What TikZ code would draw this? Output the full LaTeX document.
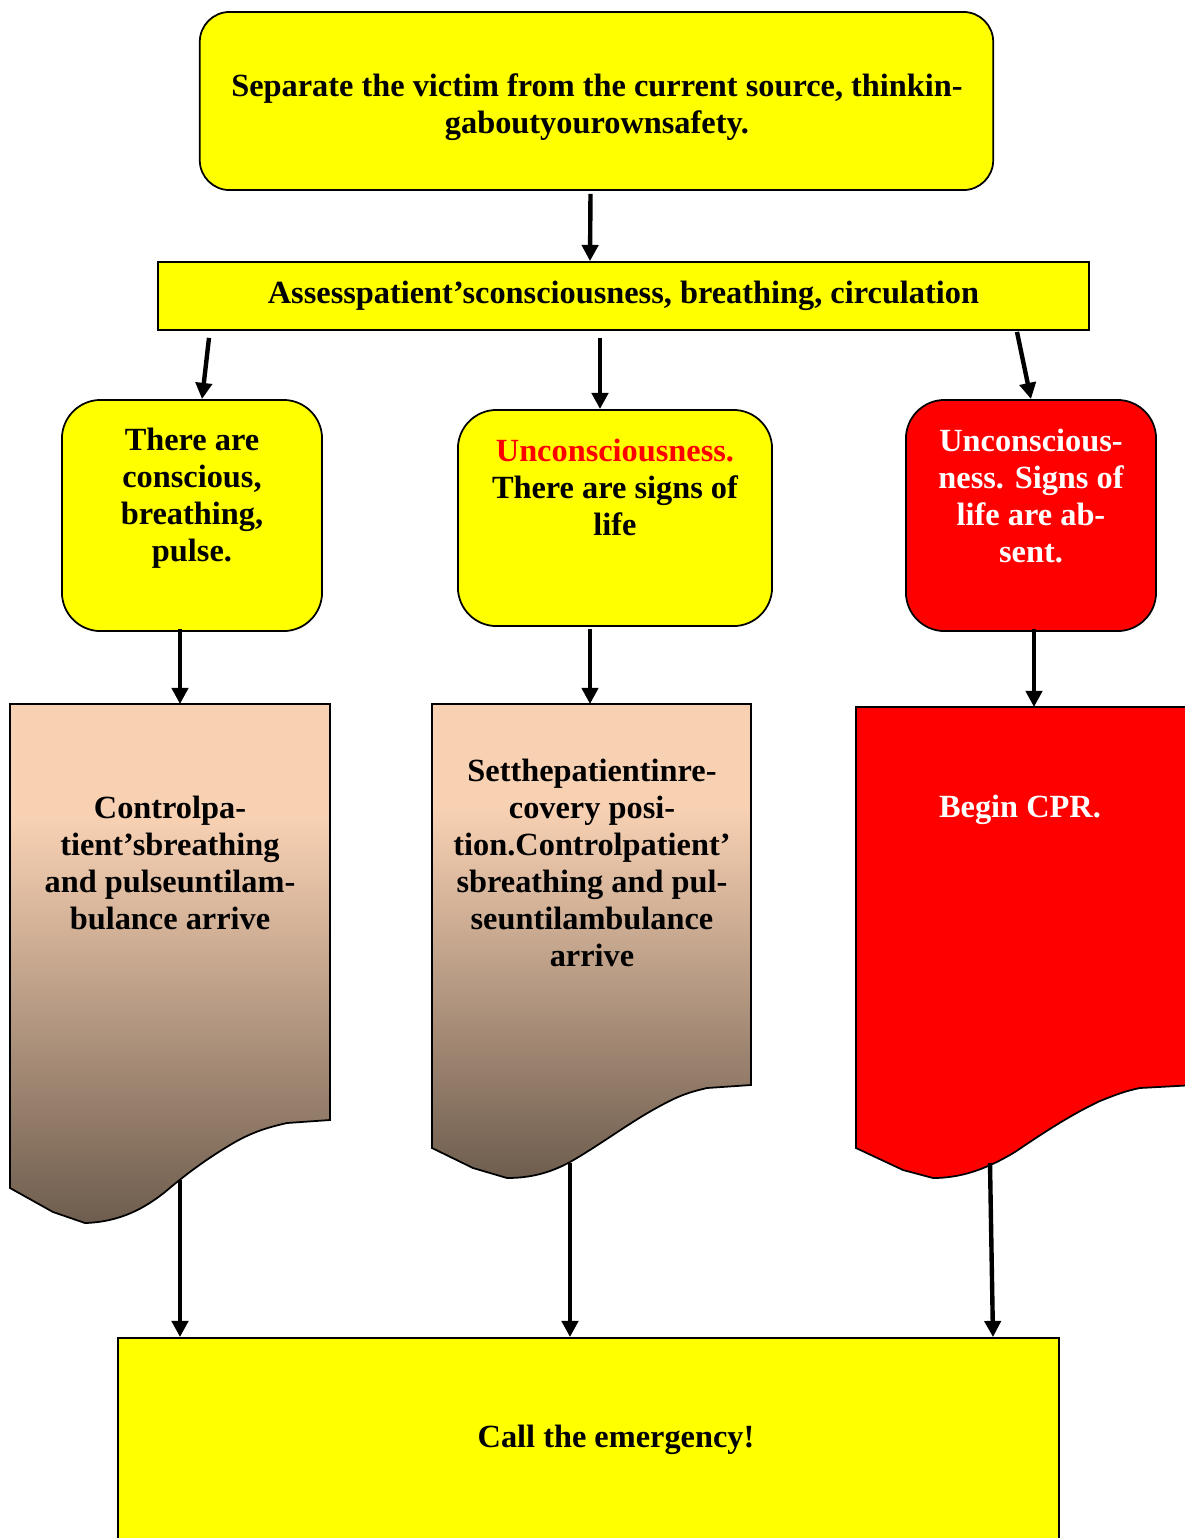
\documentclass[tikz,border=0pt]{standalone}
\usepackage{fontspec}
\setmainfont{Liberation Serif}
\usepackage{graphicx}
\usepackage{tikz}
\usetikzlibrary{arrows.meta}

\definecolor{boxyellow}{HTML}{FFFF00}
\definecolor{boxred}{HTML}{FF0000}
\definecolor{docpeach}{HTML}{F8D1B3}
\definecolor{docbrown}{HTML}{6E5D4E}
\pgfdeclareverticalshading{docshade}{100bp}{color(0bp)=(docbrown); color(25bp)=(docbrown); color(64bp)=(docpeach); color(100bp)=(docpeach)}

\begin{document}
\begin{tikzpicture}[x = 0.01cm, y = -0.01cm,
    every node/.style = {font = \bfseries\fontsize{9.2}{10.5}\selectfont, align = center},
    box/.style = {draw = black, fill = boxyellow, line width = .5pt, inner sep = 0pt},
    rbox/.style = {box, rounded corners = 11pt},
    doc/.style = {draw = black, line width = .5pt},
    arr/.style = {line width = 1.25pt, -{Triangle[length = 4.6pt, width = 4.6pt]}}]
  \useasboundingbox (0,0) rectangle (1185,1538);

  \node[box, rounded corners = 8.5pt, minimum width = 7.93cm, minimum height = 1.78cm] (separate) at (596.5,101) {};
  \node (separatetext) at (597,107) {Separate the victim from the current source, thinkin-\\gaboutyourownsafety.};
  \node[box, minimum width = 9.31cm, minimum height = .68cm] (assess) at (623.5,296)
    {Assesspatient’sconsciousness, breathing, circulation};

  \node[rbox, minimum width = 2.6cm, minimum height = 2.31cm] (conscious) at (192,515.5) {};
  \node[rbox, minimum width = 3.14cm, minimum height = 2.16cm] (signs) at (615,518) {};
  \node[rbox, fill = boxred, minimum width = 2.5cm, minimum height = 2.31cm] (absent) at (1031,515.5) {};
  \node (conscioustext) at (192,498) {There are\\conscious,\\breathing,\\pulse.};
  \node (signstext) at (615,487) {\textcolor{boxred}{Unconsciousness.}\\There are signs of\\life};
  \node[text = white] (absenttext) at (1031,496) {Unconscious-\\ness. Signs of\\life are ab-\\sent.};

  % documents
  \shade[doc, shading = docshade] (10,704) -- (330,704) -- (330,1120) -- (287,1123)
    .. controls (265,1128) and (250,1133) .. (230,1145)
    .. controls (205,1160) and (185,1175) .. (165,1192)
    .. controls (145,1208) and (120,1222) .. (85,1223)
    -- (53,1212) -- (10,1188) -- cycle;
  \shade[doc, shading = docshade] (432,704) -- (751,704) -- (751,1085) -- (707,1088)
    .. controls (690,1092) and (680,1095) .. (660,1106)
    .. controls (630,1122) and (600,1145) .. (570,1162)
    .. controls (550,1173) and (530,1178) .. (507,1178)
    -- (473,1168) -- (432,1148) -- cycle;
  \fill[doc, fill = boxred] (856,707) -- (1195,707) -- (1195,1085) -- (1140,1088)
    .. controls (1125,1091) and (1115,1095) .. (1100,1101)
    .. controls (1070,1115) and (1040,1135) .. (1015,1152)
    .. controls (985,1170) and (960,1178) .. (933,1178)
    -- (903,1170) -- (856,1148) -- cycle;
  \node (control) at (170,863) {Controlpa-\\tient’sbreathing\\and pulseuntilam-\\bulance arrive};
  \node (recovery) at (592,863) {Setthepatientinre-\\covery posi-\\tion.Controlpatient’\\sbreathing and pul-\\seuntilambulance\\arrive};
  \node[text = white] (cpr) at (1020,810) {Begin CPR.};
  \coordinate (controltop) at (180,704);
  \coordinate (recoverytop) at (590,704);
  \coordinate (cprtop) at (1034,707);
  \coordinate (controlbot) at (180,1180);
  \coordinate (recoverybot) at (570,1163);
  \coordinate (cprbot) at (990,1163);

  \node[box, minimum width = 9.41cm, minimum height = 2.07cm] (emergency) at (588.5,1441.5) {};
  \node (emergencytext) at (616,1440) {Call the emergency!};

  % arrows
  \draw[arr] ([shift = {(-6,3)}]separate.south) -- ([shift = {(-33.5,0)}]assess.north);
  \draw[arr] ([shift = {(-414.5,7)}]assess.south) -- ([shift = {(10,0)}]conscious.north);
  \draw[arr] ([shift = {(-23.5,7)}]assess.south) -- ([shift = {(-15,0)}]signs.north);
  \draw[arr] ([shift = {(393.5,1)}]assess.south) -- (absent.north);
  \draw[arr] ([shift = {(-12,-3)}]conscious.south) -- (controltop);
  \draw[arr] ([shift = {(-25,2)}]signs.south) -- (recoverytop);
  \draw[arr] ([shift = {(3,-3)}]absent.south) -- (cprtop);
  \draw[arr] (controlbot) -- ([shift = {(-408.5,0)}]emergency.north);
  \draw[arr] (recoverybot) -- ([shift = {(-18.5,0)}]emergency.north);
  \draw[arr] (cprbot) -- ([shift = {(404.5,0)}]emergency.north);
\end{tikzpicture}
\end{document}
